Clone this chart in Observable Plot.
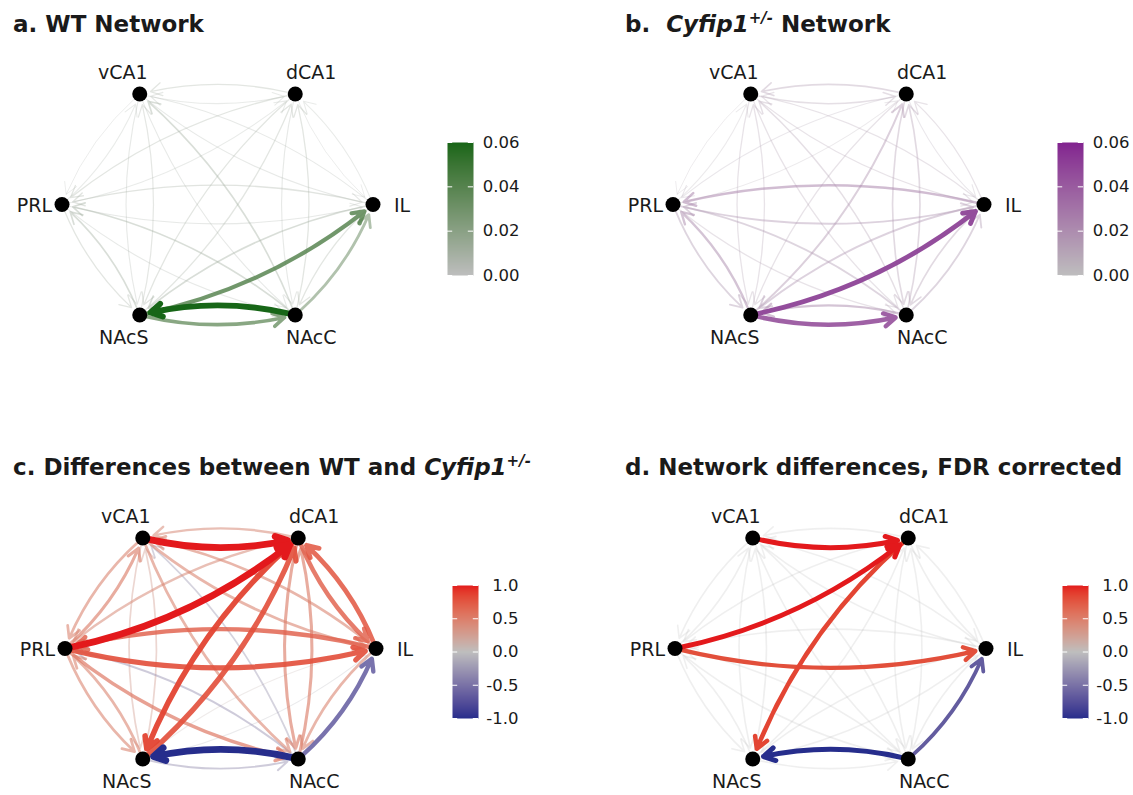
<!DOCTYPE html>
<html><head><meta charset="utf-8">
<script src="https://cdn.jsdelivr.net/npm/d3@7"></script>
<script src="https://cdn.jsdelivr.net/npm/@observablehq/plot@0.6"></script>
<style>
body{margin:0;background:#fff;}
#root{position:relative;width:1133px;height:795px;overflow:hidden;font-family:"DejaVu Sans",sans-serif;color:#1a1a1a;}
.title{position:absolute;font-weight:bold;font-size:23px;line-height:23px;white-space:nowrap;}
.title sup{font-size:15px;line-height:0;vertical-align:9px;font-style:italic;}
.panel{position:absolute;}
.panel svg{overflow:visible;max-width:none !important;}
</style></head><body><div id="root"></div>
<script>
// ---- data ----
const nodeNames = ["vCA1","dCA1","PRL","IL","NAcS","NAcC"];
const nodeX = [-0.5, 0.5, -1, 1, -0.5, 0.5];
const nodeY = [1, 1, 0, 0, -1, -1];

const edgeFrom = ["vCA1","dCA1","vCA1","PRL","vCA1","IL","vCA1","NAcS","vCA1","NAcC",
                  "dCA1","PRL","dCA1","IL","dCA1","NAcS","dCA1","NAcC",
                  "PRL","IL","PRL","NAcS","PRL","NAcC",
                  "IL","NAcS","IL","NAcC","NAcS","NAcC"];
const edgeTo   = ["dCA1","vCA1","PRL","vCA1","IL","vCA1","NAcS","vCA1","NAcC","vCA1",
                  "PRL","dCA1","IL","dCA1","NAcS","dCA1","NAcC","dCA1",
                  "IL","PRL","NAcS","PRL","NAcC","PRL",
                  "NAcS","IL","NAcC","IL","NAcC","NAcS"];

const wtWeights  = [0.005,0.008, 0.004,0.005, 0.006,0.006, 0.006,0.007, 0.006,0.012,
                    0.008,0.005, 0.004,0.005, 0.008,0.008, 0.006,0.008,
                    0.006,0.009, 0.008,0.012, 0.006,0.012,
                    0.012,0.040, 0.008,0.025, 0.035,0.060];
const hetWeights = [0.010,0.012, 0.004,0.005, 0.008,0.008, 0.008,0.008, 0.008,0.010,
                    0.006,0.005, 0.006,0.008, 0.008,0.016, 0.012,0.012,
                    0.015,0.022, 0.014,0.020, 0.008,0.014,
                    0.015,0.048, 0.012,0.014, 0.044,0.020];
const diffWeights = [1.0,0.4, 0.45,0.5, 0.45,0.45, 0.25,0.25, 0.45,-0.25,
                     0.4,1.0, 0.7,0.75, 0.85,0.8, 0.5,0.5,
                     0.8,0.7, 0.45,0.45, 0.55,-0.3,
                     0.08,-0.08, 0.45,-0.7, -0.3,-1.0];
const fdrWeights  = [1.0,0, 0,0, 0,0, 0,0, 0,0,
                     0,1.0, 0,0, 0.85,0, 0,0,
                     0.8,0, 0,0, 0,0,
                     0,0, 0,-0.65, 0,-1.0];

const networkBreaks = [0, 0.02, 0.04, 0.06];
const networkBreakLabels = ["0.00","0.02","0.04","0.06"];
const diffBreaks = [-1, -0.5, 0, 0.5, 1];
const diffBreakLabels = ["-1.0","-0.5","0.0","0.5","1.0"];

// ---- helpers ----
const nodes = nodeNames.map((n, i) => ({name: n, x: nodeX[i], y: nodeY[i]}));
const nodeBy = Object.fromEntries(nodes.map(d => [d.name, d]));
function edgesFor(weights) {
  return edgeFrom.map((f, i) => ({
    from: f, to: edgeTo[i],
    x1: nodeBy[f].x, y1: nodeBy[f].y, x2: nodeBy[edgeTo[i]].x, y2: nodeBy[edgeTo[i]].y,
    w: weights[i], a: Math.abs(weights[i])
  })).sort((p, q) => p.a - q.a);
}
const labelStyle = {
  vCA1: {dx: -17, dy: -21, textAnchor: "middle"},
  dCA1: {dx: 16, dy: -21, textAnchor: "middle"},
  PRL:  {dx: -10, dy: 1, textAnchor: "end"},
  IL:   {dx: 21, dy: 1, textAnchor: "start"},
  NAcS: {dx: -16, dy: 23, textAnchor: "middle"},
  NAcC: {dx: 16, dy: 23, textAnchor: "middle"}
};
const WING = 13;

function network(cfg) {
  const edges = edgesFor(cfg.weights);
  const marks = edges.map(e => {
    const sw = cfg.width(e.a);
    return Plot.arrow([e], {
      x1: "x1", y1: "y1", x2: "x2", y2: "y2",
      stroke: "w", strokeOpacity: {value: "a", scale: "opacity"}, strokeWidth: sw,
      headLength: 1.5 * WING / sw, headAngle: 60,
      bend: -14, insetStart: 5, insetEnd: 11
    });
  });
  marks.push(Plot.dot(nodes, {x: "x", y: "y", r: 7.5, fill: "black", stroke: "none"}));
  for (const n of nodes) {
    marks.push(Plot.text([n], {x: "x", y: "y", text: "name", fontSize: 19, fill: "#1a1a1a", ...labelStyle[n.name]}));
  }
  return Plot.plot({
    width: 420, height: 310, margin: 0,
    style: {fontFamily: "DejaVu Sans", overflow: "visible", background: "transparent", maxWidth: "none"},
    x: {domain: [-1, 1], range: [54.5, 365.5], axis: null},
    y: {domain: [-1, 1], range: [265.5, 44.5], axis: null},
    color: cfg.color,
    opacity: cfg.opacity,
    marks
  });
}

function colorbar(cfg) {
  const lo = cfg.breaks[0], hi = cfg.breaks[cfg.breaks.length - 1];
  return Plot.plot({
    width: 110, height: 170, margin: 0,
    style: {fontFamily: "DejaVu Sans", overflow: "visible", background: "transparent", maxWidth: "none"},
    x: {domain: [0, 1], range: [10, 36], axis: null},
    y: {domain: [lo, hi], range: [150, 17], axis: null},
    color: cfg.color,
    marks: [
      Plot.raster({x1: 0, x2: 1, y1: lo, y2: hi, fill: (x, y) => y, pixelSize: 1}),
      Plot.ruleY(cfg.breaks, {x1: 0, x2: 0.2, stroke: "white", strokeWidth: 1}),
      Plot.ruleY(cfg.breaks, {x1: 0.8, x2: 1, stroke: "white", strokeWidth: 1}),
      Plot.text(cfg.breaks, {x: 1, y: d => d, text: (d, i) => cfg.labels[i], dx: cfg.labelDx,
        textAnchor: "end", fontSize: 16.5, fill: "#1a1a1a"})
    ]
  });
}

// ---- color configs ----
const wtColor = {type: "linear", domain: [0, 0.06], range: ["#bebebe", "#176617"], interpolate: "lab"};
const hetColor = {type: "linear", domain: [0, 0.06], range: ["#bebebe", "#82228f"], interpolate: "lab"};
const diffColor = {type: "linear", domain: [-1, 0, 1], range: ["#262d8c", "#bebebe", "#e3191c"], interpolate: "lab"};

const root = document.getElementById("root");
function place(el, left, top, w, h) {
  const d = document.createElement("div");
  d.className = "panel"; d.style.left = left + "px"; d.style.top = top + "px";
  d.style.width = w + "px"; d.style.height = h + "px";
  d.appendChild(el); root.appendChild(d);
}
function title(html, left, top) {
  const d = document.createElement("div");
  d.className = "title"; d.style.left = left + "px"; d.style.top = top + "px";
  d.innerHTML = html; root.appendChild(d);
}

title("a. WT Network", 13, 12.5);
title("b.&nbsp; <i>Cyfip1</i><sup>+/-</sup> Network", 625, 12.5);
title("c. Differences between WT and <i>Cyfip1</i><sup>+/-</sup>", 13, 455.5);
title("d. Network differences, FDR corrected", 625, 455.5);

const netWidth = a => 0.6 + 88 * a;
place(network({weights: wtWeights, color: wtColor,
  opacity: {domain: [0, 0.05], range: [0.2, 1], clamp: true}, width: netWidth}), 6.7, 49, 420, 310);
place(network({weights: hetWeights, color: hetColor,
  opacity: {domain: [0, 0.05], range: [0.2, 1], clamp: true}, width: netWidth}), 617.7, 49, 420, 310);
place(network({weights: diffWeights, color: diffColor,
  opacity: {domain: [0, 0.9], range: [0.2, 1], clamp: true}, width: a => 1 + 5.8 * Math.pow(a, 1.5)}), 9.7, 492.5, 420, 310);
place(network({weights: fdrWeights, color: diffColor,
  opacity: {domain: [0, 0.65], range: [0.24, 1], clamp: true}, width: a => 1.6 + 3.4 * a}), 619.7, 492.8, 420, 310);

place(colorbar({breaks: networkBreaks, labels: networkBreakLabels, color: wtColor, labelDx: 46}), 437, 125, 110, 170);
place(colorbar({breaks: networkBreaks, labels: networkBreakLabels, color: hetColor, labelDx: 46}), 1047, 125, 110, 170);
place(colorbar({breaks: diffBreaks, labels: diffBreakLabels, color: diffColor, labelDx: 40}), 442, 568, 110, 170);
place(colorbar({breaks: diffBreaks, labels: diffBreakLabels, color: diffColor, labelDx: 40}), 1052, 568, 110, 170);
</script></body></html>
